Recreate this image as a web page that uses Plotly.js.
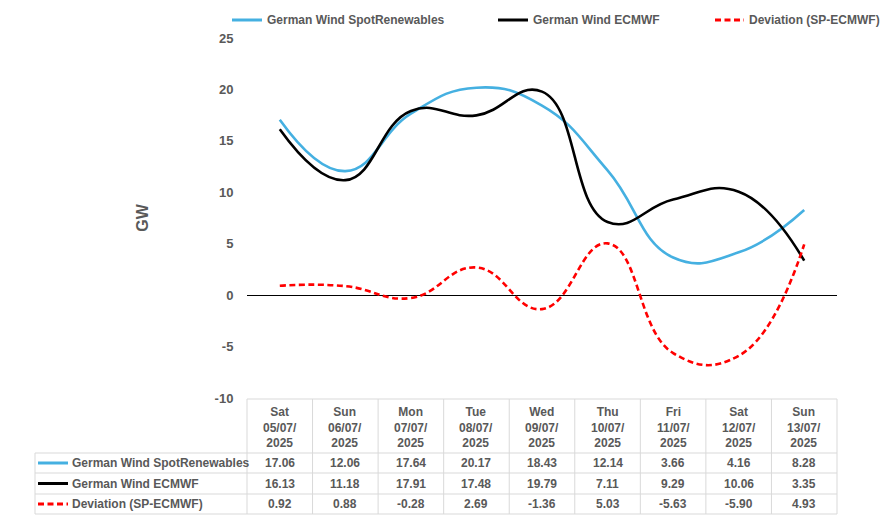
<!DOCTYPE html>
<html>
<head>
<meta charset="utf-8">
<script src="https://cdn.plot.ly/plotly-3.0.1.min.js"></script>
<style>html,body{margin:0;padding:0;background:#fff;}#chart{width:884px;height:528px;}</style>
</head>
<body>
<div id="chart"></div>
<script>
// ---- data ----
const dayNames = ['Sat','Sun','Mon','Tue','Wed','Thu','Fri','Sat','Sun'];
const dates = ['05/07/2025','06/07/2025','07/07/2025','08/07/2025','09/07/2025','10/07/2025','11/07/2025','12/07/2025','13/07/2025'];
const spotRenewables = [17.06, 12.06, 17.64, 20.17, 18.43, 12.14, 3.66, 4.16, 8.28];
const ecmwf = [16.13, 11.18, 17.91, 17.48, 19.79, 7.11, 9.29, 10.06, 3.35];
const deviation = [0.92, 0.88, -0.28, 2.69, -1.36, 5.03, -5.63, -5.90, 4.93];
const seriesNames = ['German Wind SpotRenewables', 'German Wind ECMWF', 'Deviation (SP-ECMWF)'];
const yTicks = [-10, -5, 0, 5, 10, 15, 20, 25];

const categories = dayNames.map((d, i) => d + ' ' + dates[i]);

// ---- styling ----
const W = 884, H = 528;
const L = 247, R = 837, T = 38, B = 398;
const grey = '#595959';
const gridGrey = '#D9D9D9';
const FONT = '"Liberation Sans", Arial, sans-serif';
const colors = ['#45B0E1', '#000000', '#FF0000'];
const DASH = '6px,3.5px';
const dashes = ['solid', 'solid', DASH];

const px2x = px => (px - L) / (R - L);
const py2y = py => (B - py) / (B - T);

const values = [spotRenewables, ecmwf, deviation];
const traces = values.map((v, k) => ({
  type: 'scatter', mode: 'lines', x: categories, y: v, name: seriesNames[k],
  line: {color: colors[k], width: 2.6, shape: 'spline', smoothing: 1.3, dash: dashes[k]},
  showlegend: false, hoverinfo: 'x+y+name'
}));

const shapes = [];
const annotations = [];
const tfont = {family: FONT, size: 12, color: grey, weight: 700};

// legend (top)
const legendLines = [[232, 262], [498, 528], [715, 744]];
legendLines.forEach((p, k) => {
  shapes.push({type: 'line', xref: 'paper', yref: 'paper', x0: px2x(p[0]), x1: px2x(p[1]), y0: py2y(20), y1: py2y(20),
    line: {color: colors[k], width: 3, dash: dashes[k]}});
  annotations.push({xref: 'paper', yref: 'paper', x: px2x(p[1] + 3), y: py2y(20), xanchor: 'left', yanchor: 'middle',
    text: seriesNames[k], showarrow: false, font: tfont});
});

// data table
const tableTop = 399, headBot = 453, rowLines = [453, 473, 494, 514], tableLeft = 35;
const colEdges = categories.map((c, i) => L + i * (R - L) / 9).concat([R]);
colEdges.forEach(px => {
  shapes.push({type: 'line', xref: 'paper', yref: 'paper', x0: px2x(px), x1: px2x(px), y0: py2y(tableTop), y1: py2y(514),
    line: {color: gridGrey, width: 1}});
});
shapes.push({type: 'line', xref: 'paper', yref: 'paper', x0: px2x(tableLeft), x1: px2x(tableLeft), y0: py2y(headBot), y1: py2y(514),
  line: {color: gridGrey, width: 1}});
shapes.push({type: 'line', xref: 'paper', yref: 'paper', x0: 0, x1: 1, y0: py2y(tableTop), y1: py2y(tableTop), line: {color: gridGrey, width: 1}});
rowLines.forEach(py => {
  shapes.push({type: 'line', xref: 'paper', yref: 'paper', x0: px2x(tableLeft), x1: 1, y0: py2y(py), y1: py2y(py), line: {color: gridGrey, width: 1}});
});
categories.forEach((c, i) => {
  annotations.push({xref: 'x', yref: 'paper', x: c, y: py2y((tableTop + headBot) / 2 + 1), xanchor: 'center', yanchor: 'middle',
    text: dayNames[i] + '<br>' + dates[i].slice(0, 6) + '<br>' + dates[i].slice(6), showarrow: false, font: tfont, align: 'center'});
});
values.forEach((v, k) => {
  const cy = (rowLines[k] + rowLines[k + 1]) / 2;
  shapes.push({type: 'line', xref: 'paper', yref: 'paper', x0: px2x(38), x1: px2x(68), y0: py2y(cy), y1: py2y(cy),
    line: {color: colors[k], width: 3, dash: dashes[k]}});
  annotations.push({xref: 'paper', yref: 'paper', x: px2x(70), y: py2y(cy), xanchor: 'left', yanchor: 'middle',
    text: seriesNames[k], showarrow: false, font: tfont});
  v.forEach((val, i) => {
    annotations.push({xref: 'x', yref: 'paper', x: categories[i], y: py2y(cy), xanchor: 'center', yanchor: 'middle',
      text: val.toFixed(2), showarrow: false, font: tfont});
  });
});

const layout = {
  width: W, height: H,
  margin: {l: L, r: W - R, t: T, b: H - B, pad: 0},
  paper_bgcolor: '#ffffff', plot_bgcolor: '#ffffff',
  font: {family: FONT, color: grey, size: 12},
  xaxis: {type: 'category', range: [-0.5, 8.5], showticklabels: false, showgrid: false, zeroline: false,
    showline: false, ticks: '', fixedrange: true},
  yaxis: {range: [-10, 25], tickvals: yTicks, ticktext: yTicks.map(String), showgrid: false,
    zeroline: true, zerolinecolor: '#000000', zerolinewidth: 1, showline: false,
    ticks: 'outside', ticklen: 10, tickcolor: 'rgba(0,0,0,0)',
    tickfont: {family: FONT, size: 13, color: grey, weight: 700},
    title: {text: 'GW', font: {family: FONT, size: 16, color: grey, weight: 700}, standoff: 62},
    automargin: false, fixedrange: true},
  shapes: shapes,
  annotations: annotations,
  showlegend: false
};

Plotly.newPlot('chart', traces, layout, {displayModeBar: false, staticPlot: true});
</script>
</body>
</html>
